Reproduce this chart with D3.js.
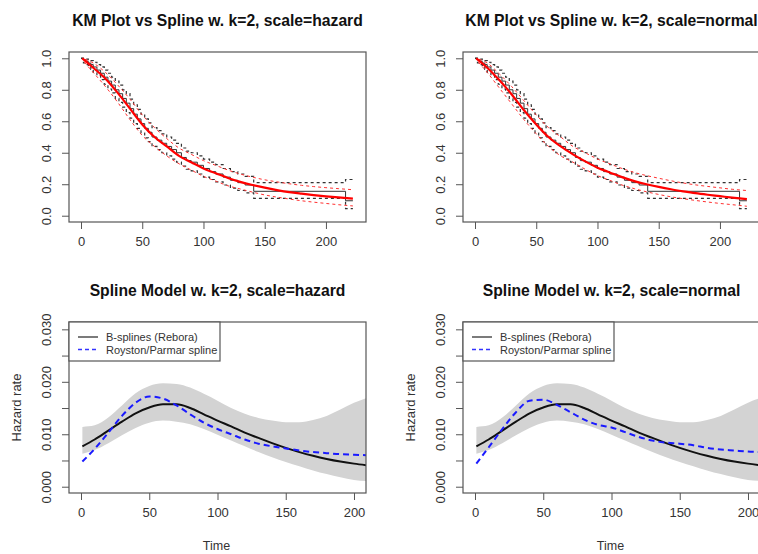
<!DOCTYPE html>
<html>
<head>
<meta charset="utf-8">
<script src="https://cdn.jsdelivr.net/npm/d3@7"></script>
<style>
  body { margin: 0; background: #fff; }
  svg { font-family: "Liberation Sans", Arial, sans-serif; }
</style>
</head>
<body>
<svg id="chart" width="758" height="554"></svg>
<script>
// Kaplan-Meier estimate (step function) and its confidence limits
const kmTime  = [0, 2, 4, 6, 8, 10, 13, 16, 19, 22, 25, 28, 31, 34, 37, 40, 43, 46, 49, 52, 55, 58, 62, 66, 70, 74, 78, 82, 86, 90, 95, 100, 105, 110, 116, 122, 128, 134, 141, 216, 222];
const kmSurv  = [1.0, 0.99, 0.98, 0.97, 0.96, 0.945, 0.925, 0.905, 0.88, 0.855, 0.83, 0.80, 0.775, 0.745, 0.715, 0.68, 0.645, 0.615, 0.585, 0.555, 0.53, 0.50, 0.48, 0.46, 0.44, 0.42, 0.40, 0.37, 0.35, 0.34, 0.32, 0.30, 0.28, 0.265, 0.245, 0.225, 0.21, 0.195, 0.155, 0.095, 0.095];
const kmUpper = [1.0, 1.0, 0.995, 0.99, 0.985, 0.975, 0.96, 0.945, 0.925, 0.905, 0.88, 0.855, 0.83, 0.80, 0.775, 0.74, 0.705, 0.675, 0.645, 0.615, 0.59, 0.56, 0.54, 0.52, 0.50, 0.48, 0.46, 0.43, 0.41, 0.40, 0.38, 0.36, 0.34, 0.325, 0.30, 0.28, 0.265, 0.25, 0.21, 0.23, 0.23];
const kmLower = [1.0, 0.97, 0.96, 0.945, 0.93, 0.91, 0.89, 0.865, 0.835, 0.805, 0.78, 0.745, 0.72, 0.69, 0.655, 0.62, 0.585, 0.555, 0.525, 0.495, 0.47, 0.44, 0.42, 0.40, 0.38, 0.36, 0.34, 0.315, 0.295, 0.285, 0.265, 0.245, 0.23, 0.215, 0.195, 0.175, 0.16, 0.145, 0.11, 0.045, 0.045];

// fitted spline survival curves
const splTime     = [1, 10, 20, 30, 40, 50, 60, 70, 80, 90, 100, 110, 120, 130, 140, 150, 160, 170, 180, 190, 200, 210, 222];
const hazSurv     = [1.0, 0.94, 0.87, 0.78, 0.68, 0.58, 0.50, 0.44, 0.38, 0.34, 0.30, 0.27, 0.24, 0.215, 0.195, 0.178, 0.163, 0.150, 0.140, 0.131, 0.123, 0.116, 0.108];
const hazSurvUp   = [1.0, 0.97, 0.91, 0.83, 0.74, 0.64, 0.56, 0.49, 0.43, 0.39, 0.35, 0.32, 0.29, 0.265, 0.245, 0.228, 0.215, 0.203, 0.193, 0.185, 0.178, 0.172, 0.165];
const hazSurvLow  = [0.99, 0.91, 0.82, 0.72, 0.61, 0.51, 0.44, 0.38, 0.33, 0.29, 0.25, 0.22, 0.19, 0.17, 0.15, 0.132, 0.118, 0.106, 0.095, 0.086, 0.078, 0.070, 0.062];
const normSurv    = [1.0, 0.94, 0.86, 0.77, 0.67, 0.58, 0.50, 0.44, 0.39, 0.345, 0.305, 0.275, 0.245, 0.22, 0.20, 0.183, 0.168, 0.155, 0.143, 0.133, 0.124, 0.115, 0.105];
const normSurvUp  = [1.0, 0.97, 0.90, 0.82, 0.73, 0.64, 0.56, 0.50, 0.44, 0.40, 0.36, 0.33, 0.30, 0.275, 0.255, 0.238, 0.222, 0.208, 0.196, 0.186, 0.177, 0.168, 0.16];
const normSurvLow = [0.99, 0.91, 0.81, 0.71, 0.61, 0.52, 0.44, 0.38, 0.34, 0.295, 0.255, 0.225, 0.195, 0.172, 0.152, 0.135, 0.12, 0.108, 0.097, 0.087, 0.078, 0.07, 0.06];

// hazard curves
const hazTime    = [1, 10, 20, 30, 40, 50, 60, 70, 80, 90, 100, 110, 120, 130, 140, 150, 160, 170, 180, 190, 200, 209];
const bspline    = [0.0077, 0.0090, 0.0107, 0.0124, 0.0140, 0.0151, 0.0157, 0.0157, 0.0150, 0.0138, 0.0126, 0.0115, 0.0103, 0.0093, 0.0083, 0.0074, 0.0066, 0.0059, 0.0053, 0.0048, 0.0044, 0.0041];
const bandUpper  = [0.0114, 0.0117, 0.0132, 0.0155, 0.0178, 0.0192, 0.0197, 0.0196, 0.0189, 0.0177, 0.0164, 0.0150, 0.0139, 0.0131, 0.0126, 0.0123, 0.0123, 0.0127, 0.0135, 0.0147, 0.0160, 0.0169];
const bandLower  = [0.0063, 0.0070, 0.0083, 0.0098, 0.0112, 0.0122, 0.0126, 0.0124, 0.0119, 0.0110, 0.0099, 0.0088, 0.0077, 0.0066, 0.0056, 0.0047, 0.0039, 0.0031, 0.0024, 0.0018, 0.0013, 0.0011];
const rpHazard   = [0.0048, 0.0072, 0.0103, 0.0135, 0.0160, 0.0172, 0.0168, 0.0155, 0.0138, 0.0122, 0.0110, 0.0100, 0.0090, 0.0082, 0.0077, 0.0073, 0.0069, 0.0066, 0.0064, 0.0062, 0.0061, 0.0060];
const rpNormal   = [0.0044, 0.0075, 0.0110, 0.0142, 0.0164, 0.0166, 0.0156, 0.0142, 0.0128, 0.0118, 0.0113, 0.0104, 0.0095, 0.0088, 0.0084, 0.0082, 0.0079, 0.0074, 0.0071, 0.0069, 0.0067, 0.0066];

const xTicks = [0, 50, 100, 150, 200];
const survTicks = [0, 0.2, 0.4, 0.6, 0.8, 1.0];
const hazTicks = [0, 0.005, 0.010, 0.015, 0.020, 0.025, 0.030];
const hazLabels = ["0.000", "", "0.010", "", "0.020", "", "0.030"];
const legendNames = ["B-splines (Rebora)", "Royston/Parmar spline"];

const svg = d3.select("#chart");
const textCol = "#333";
const boxCol = "#555";

const cols = [{ x0: 69, x1: 366 }, { x0: 463, x1: 760 }];
const topRow = { y0: 52, y1: 222 };
const botRow = { y0: 322, y1: 493 };

function zip(xs, ys) { return xs.map((x, i) => [x, ys[i]]); }

function frame(col, row, title, titleY, id) {
  const g = svg.append("g");
  g.append("clipPath").attr("id", id)
    .append("rect")
    .attr("x", col.x0).attr("y", row.y0)
    .attr("width", col.x1 - col.x0).attr("height", row.y1 - row.y0);
  g.append("text")
    .attr("x", (col.x0 + col.x1) / 2).attr("y", titleY)
    .attr("text-anchor", "middle")
    .style("font-weight", "bold").style("font-size", "15.7px")
    .attr("fill", "#111")
    .text(title);
  const plot = g.append("g").attr("clip-path", `url(#${id})`);
  return { g, plot };
}

function axes(g, x, y, col, row, yVals, yLabels) {
  // x ticks outward from box
  const xa = g.append("g").attr("transform", `translate(0,${row.y1})`)
    .call(d3.axisBottom(x).tickValues(xTicks).tickSize(7).tickPadding(8).tickSizeOuter(0));
  xa.select(".domain").remove();
  xa.selectAll("line").attr("stroke", boxCol);
  xa.selectAll("text").style("font-size", "13px").attr("fill", textCol);

  const ya = g.append("g").attr("transform", `translate(${col.x0},0)`)
    .call(d3.axisLeft(y).tickValues(yVals).tickSize(7).tickSizeOuter(0));
  ya.select(".domain").remove();
  ya.selectAll("line").attr("stroke", boxCol);
  ya.selectAll("text")
    .attr("x", 0).attr("y", -18).attr("dy", 0)
    .attr("transform", "rotate(-90)")
    .attr("text-anchor", "middle")
    .style("font-size", "13px").attr("fill", textCol)
    .text((d, i) => yLabels[i]);

  g.append("rect")
    .attr("x", col.x0).attr("y", row.y0)
    .attr("width", col.x1 - col.x0).attr("height", row.y1 - row.y0)
    .attr("fill", "none").attr("stroke", boxCol).attr("stroke-width", 1.2);
}

function drawKM(ci, title, surv, up, low) {
  const col = cols[ci];
  const { g, plot } = frame(col, topRow, title, 26, "clipKM" + ci);
  const x = d3.scaleLinear().domain([-9.8, 232.7]).range([col.x0, col.x1]);
  const y = d3.scaleLinear().domain([-0.04, 1.04]).range([topRow.y1, topRow.y0]);

  const step = d3.line().x(d => x(d[0])).y(d => y(d[1])).curve(d3.curveStepAfter);
  const smooth = d3.line().x(d => x(d[0])).y(d => y(d[1])).curve(d3.curveMonotoneX);

  plot.append("path").datum(zip(kmTime, kmSurv)).attr("d", step)
    .attr("fill", "none").attr("stroke", "#333").attr("stroke-width", 1);
  [kmUpper, kmLower].forEach(arr => {
    plot.append("path").datum(zip(kmTime, arr)).attr("d", step)
      .attr("fill", "none").attr("stroke", "#333").attr("stroke-width", 1.2)
      .attr("stroke-dasharray", "3,3");
  });
  [up, low].forEach(arr => {
    plot.append("path").datum(zip(splTime, arr)).attr("d", smooth)
      .attr("fill", "none").attr("stroke", "#ff3030").attr("stroke-width", 1)
      .attr("stroke-dasharray", "3,3").attr("stroke-dashoffset", 3);
  });
  plot.append("path").datum(zip(splTime, surv)).attr("d", smooth)
    .attr("fill", "none").attr("stroke", "#ff0000").attr("stroke-width", 2.2);

  axes(g, x, y, col, topRow, survTicks, survTicks.map(d => d.toFixed(1)));
}

function drawHazard(ci, title, rp) {
  const col = cols[ci];
  const { g, plot } = frame(col, botRow, title, 296, "clipHz" + ci);
  const x = d3.scaleLinear().domain([-8.8, 208.8]).range([col.x0, col.x1]);
  const y = d3.scaleLinear().domain([-0.0012, 0.0314]).range([botRow.y1, botRow.y0]);

  const band = d3.area().x((d, i) => x(hazTime[i]))
    .y0((d, i) => y(bandLower[i])).y1((d, i) => y(bandUpper[i]))
    .curve(d3.curveMonotoneX);
  plot.append("path").datum(hazTime).attr("d", band).attr("fill", "#d3d3d3");

  const line = d3.line().x(d => x(d[0])).y(d => y(d[1])).curve(d3.curveMonotoneX);
  plot.append("path").datum(zip(hazTime, bspline)).attr("d", line)
    .attr("fill", "none").attr("stroke", "#111").attr("stroke-width", 2);
  plot.append("path").datum(zip(hazTime, rp)).attr("d", line)
    .attr("fill", "none").attr("stroke", "#1a1aff").attr("stroke-width", 2)
    .attr("stroke-dasharray", "6,4");

  axes(g, x, y, col, botRow, hazTicks, hazLabels);

  // legend
  const lg = g.append("g").attr("transform", `translate(${col.x0},${botRow.y0})`);
  lg.append("rect").attr("x", 0).attr("y", 0).attr("width", 151).attr("height", 39)
    .attr("fill", "#fff").attr("stroke", boxCol).attr("stroke-width", 1.2);
  const styles = [
    { stroke: "#222", dash: null, w: 1.2 },
    { stroke: "#3333ff", dash: "4,3", w: 1.5 }
  ];
  legendNames.forEach((name, i) => {
    const yy = 15 + i * 12.5;
    lg.append("line").attr("x1", 9).attr("x2", 29).attr("y1", yy).attr("y2", yy)
      .attr("stroke", styles[i].stroke).attr("stroke-width", styles[i].w)
      .attr("stroke-dasharray", styles[i].dash);
    lg.append("text").attr("x", 37).attr("y", yy + 4)
      .style("font-size", "11px").attr("fill", textCol).text(name);
  });

  g.append("text")
    .attr("transform", `translate(${col.x0 - 48},${(botRow.y0 + botRow.y1) / 2}) rotate(-90)`)
    .attr("text-anchor", "middle")
    .style("font-size", "13px").attr("fill", textCol)
    .text("Hazard rate");
  g.append("text")
    .attr("x", (col.x0 + col.x1) / 2 - 1).attr("y", 550)
    .attr("text-anchor", "middle")
    .style("font-size", "12.5px").attr("fill", textCol)
    .text("Time");
}

drawKM(0, "KM Plot vs Spline w. k=2, scale=hazard", hazSurv, hazSurvUp, hazSurvLow);
drawKM(1, "KM Plot vs Spline w. k=2, scale=normal", normSurv, normSurvUp, normSurvLow);
drawHazard(0, "Spline Model w. k=2, scale=hazard", rpHazard);
drawHazard(1, "Spline Model w. k=2, scale=normal", rpNormal);
</script>
</body>
</html>
